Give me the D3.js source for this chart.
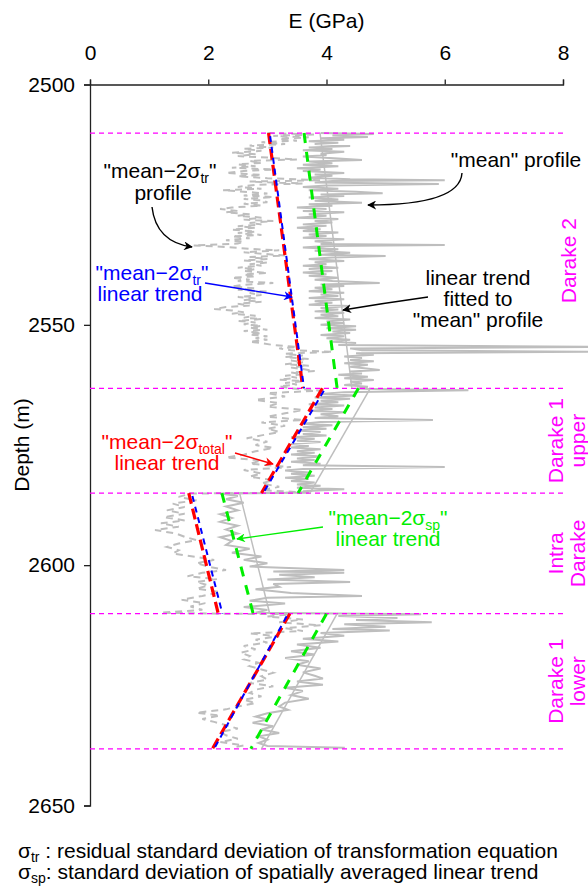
<!DOCTYPE html>
<html>
<head>
<meta charset="utf-8">
<script src="https://cdn.jsdelivr.net/npm/d3@7"></script>
<style>
  body { margin: 0; background: #fff; }
  text { font-family: "Liberation Sans", Arial, sans-serif; }
</style>
</head>
<body>
<svg id="chart" width="588" height="886"></svg>
<script>
// ticks
const eTicks = [0, 2, 4, 6, 8]
const depthTicks = [2500, 2550, 2600, 2650]

// unit boundaries (m) and names
const zoneBounds = [2510.1, 2563.2, 2585.0, 2610.1, 2638.2]
const zoneNames = [["Darake 2"], ["Darake 1", "upper"], ["Intra", "Darake"], ["Darake 1", "lower"]]

// E at top / bottom of each zone for the fitted trends
const meanTrend  = [[3.89, 4.43], [4.74, 3.72], [2.53, 3.04], [4.18, 2.90]]
const spTrend    = [[3.62, 4.18], [4.54, 3.52], [2.23, 2.76], [4.00, 2.72]]
const totalTrend = [[3.02, 3.60], [3.93, 2.90], [1.67, 2.17], [3.38, 2.07]]
const trTrend    = [[3.04, 3.62], [3.98, 2.93], [1.72, 2.24], [3.35, 2.10]]

// "mean" profile  [depth, E]
const meanProfile = [
  [2510.1,3.9],[2510.3,4.8],[2510.6,4.1],[2510.9,4.7],[2511.2,3.9],[2511.5,4.3],[2511.8,3.7],[2512.1,4.2],
  [2512.4,3.8],[2512.8,4.4],[2513.1,3.7],[2513.4,4.1],[2513.7,3.6],[2514.0,4.3],[2514.4,3.9],[2514.7,4.0],
  [2515.0,3.6],[2515.4,4.2],[2515.7,4.6],[2516.0,3.7],[2516.4,4.1],[2516.7,3.6],[2517.0,4.2],[2517.4,3.5],
  [2517.7,3.9],[2518.0,3.6],[2518.4,4.3],[2518.7,3.8],[2519.0,4.1],[2519.4,3.7],[2519.7,4.4],[2519.9,6.0],
  [2520.1,4.1],[2520.4,3.8],[2520.7,5.9],[2521.0,4.0],[2521.3,3.6],[2521.7,4.2],[2522.0,3.7],[2522.3,4.5],
  [2522.6,4.95],[2522.9,3.9],[2523.2,4.3],[2523.5,3.7],[2523.9,4.2],[2524.2,3.8],[2524.6,4.6],[2524.9,3.7],
  [2525.2,4.1],[2525.6,3.5],[2525.9,4.0],[2526.3,3.6],[2526.6,4.3],[2527.0,3.7],[2527.3,4.0],[2527.7,3.5],
  [2528.0,4.2],[2528.4,3.8],[2528.7,4.1],[2529.1,3.6],[2529.4,4.0],[2529.8,3.5],[2530.1,3.9],[2530.5,3.6],
  [2530.8,4.2],[2531.2,3.7],[2531.5,4.0],[2531.9,3.6],[2532.2,4.3],[2532.6,3.8],[2532.9,4.1],[2533.2,3.9],
  [2533.4,6.0],[2533.6,4.0],[2533.9,3.6],[2534.3,4.2],[2534.6,3.8],[2535.0,4.4],[2535.4,3.9],[2535.7,5.0],
  [2536.0,4.1],[2536.3,3.7],[2536.7,4.3],[2537.0,3.8],[2537.4,4.0],[2537.7,3.6],[2538.1,4.2],[2538.4,3.7],
  [2538.8,4.1],[2539.1,3.6],[2539.5,4.0],[2539.8,3.7],[2540.2,4.2],[2540.6,3.8],[2540.9,4.1],[2541.3,4.9],
  [2541.6,3.9],[2541.9,4.3],[2542.3,3.8],[2542.6,4.1],[2543.0,3.7],[2543.3,4.3],[2543.7,3.9],[2544.0,4.2],
  [2544.4,3.7],[2544.7,4.3],[2545.1,3.8],[2545.4,4.1],[2545.8,3.7],[2546.1,4.4],[2546.5,3.9],[2546.8,4.2],
  [2547.2,3.8],[2547.5,4.3],[2547.9,3.9],[2548.2,4.2],[2548.6,3.8],[2548.9,4.4],[2549.3,4.0],[2549.6,4.3],
  [2550.0,3.9],[2550.3,4.5],[2550.7,4.0],[2551.0,4.5],[2551.4,4.1],[2551.7,4.4],[2552.1,3.9],[2552.4,4.3],
  [2552.8,4.0],[2553.1,4.4],[2553.5,4.1],[2553.8,4.5],[2554.2,4.2],[2554.6,8.6],[2554.9,4.4],[2555.3,4.6],
  [2555.6,8.6],[2555.9,4.5],[2556.2,4.8],[2556.6,4.3],[2556.9,4.6],[2557.3,4.4],[2557.6,4.8],[2558.0,4.3],
  [2558.3,4.7],[2558.7,4.4],[2559.0,4.6],[2559.4,4.9],[2559.7,4.4],[2560.1,4.6],[2560.4,4.2],[2560.8,4.7],
  [2561.1,4.3],[2561.5,4.8],[2561.8,4.4],[2562.2,4.6],[2562.5,4.3],[2562.9,4.7],[2563.3,4.5],[2563.6,6.4],
  [2564.0,4.3],[2564.4,3.9],[2564.7,4.5],[2565.1,3.8],[2565.4,4.4],[2565.8,3.9],[2566.1,4.2],[2566.5,3.7],
  [2566.8,4.3],[2567.2,3.8],[2567.5,4.1],[2567.9,3.7],[2568.2,4.3],[2568.6,3.9],[2569.0,4.2],[2569.4,3.8],
  [2569.8,5.8],[2570.2,3.9],[2570.6,3.6],[2570.9,4.1],[2571.3,3.6],[2571.6,4.0],[2572.0,3.5],[2572.3,3.9],
  [2572.7,3.6],[2573.0,4.0],[2573.4,3.4],[2573.7,3.8],[2574.1,3.5],[2574.4,3.9],[2574.8,3.4],[2575.2,3.7],
  [2575.5,3.4],[2575.9,3.9],[2576.3,3.5],[2576.6,3.8],[2577.0,3.4],[2577.4,3.9],[2577.8,3.5],[2578.1,3.8],
  [2578.5,3.4],[2578.9,3.9],[2579.2,3.6],[2579.6,6.0],[2580.0,3.6],[2580.3,3.3],[2580.7,3.7],[2581.0,3.4],
  [2581.4,3.8],[2581.8,3.3],[2582.1,3.7],[2582.5,3.4],[2582.8,3.8],[2583.2,3.5],[2583.5,3.9],[2583.9,3.5],
  [2584.2,4.3],[2584.6,3.6],[2584.9,3.7],[2585.1,2.2],[2585.6,2.5],[2586.3,2.3],
  [2587.0,2.6],[2587.8,2.3],[2588.6,2.5],[2589.4,2.2],[2590.2,2.4],[2591.0,2.2],[2591.8,2.5],[2592.6,2.3],
  [2593.4,2.5],[2594.2,2.2],[2595.0,2.4],[2595.8,2.3],[2596.6,2.7],[2597.4,2.4],[2598.2,2.9],[2598.9,2.6],
  [2599.6,3.0],[2600.3,2.7],[2601.0,4.3],[2601.3,3.1],[2601.6,4.3],[2602.0,3.2],[2602.5,3.8],[2603.0,3.0],
  [2603.5,4.4],[2603.9,3.1],[2604.5,3.2],[2605.0,2.8],[2605.8,3.4],[2606.4,4.6],[2606.8,3.0],[2607.4,2.7],
  [2608.0,3.3],[2608.7,2.6],[2609.3,3.0],[2609.9,2.8],[2610.2,5.6],[2610.6,4.2],[2611.0,5.2],[2611.4,4.5],
  [2611.9,5.78],[2612.3,4.3],[2612.8,5.0],[2613.3,4.1],[2613.6,5.07],[2614.1,3.9],[2614.7,4.3],[2615.3,3.6],
  [2615.9,4.2],[2616.5,3.5],[2617.2,3.9],[2617.9,3.4],[2618.6,3.8],[2619.3,3.3],[2620.0,3.7],[2620.7,3.5],
  [2621.5,3.9],[2622.3,3.6],[2623.0,3.8],[2623.6,3.94],[2624.2,3.5],[2624.9,3.94],[2625.5,3.3],[2626.2,3.6],
  [2627.0,3.4],[2627.8,3.7],[2628.6,3.3],[2629.4,3.2],[2630.1,3.35],[2630.8,3.0],[2631.5,2.8],[2632.1,3.0],
  [2632.8,2.75],[2633.5,3.1],[2634.2,2.9],[2634.9,3.2],[2635.6,2.85],[2636.3,3.0],[2637.0,2.85],[2637.6,3.0],
  [2638.0,4.31]
]

// "mean-2 sigma_tr" profile  [depth, E]
const lowProfile = [
  [2510.1,3.0],[2510.4,3.8],[2510.7,3.1],[2511.0,3.7],[2511.3,3.2],[2511.7,3.5],[2512.0,2.9],[2512.4,3.3],
  [2512.7,2.7],[2513.1,3.1],[2513.4,2.6],[2513.8,2.9],[2514.2,2.4],[2514.5,2.8],[2514.9,2.5],[2515.2,3.0],
  [2515.6,3.5],[2515.9,2.7],[2516.3,2.9],[2516.6,2.5],[2517.0,2.8],[2517.3,2.4],[2517.7,3.1],[2518.0,2.6],
  [2518.4,2.3],[2518.8,2.9],[2519.1,2.5],[2519.5,3.0],[2519.9,3.9],[2520.2,2.7],[2520.6,3.6],[2520.9,2.8],
  [2521.3,2.5],[2521.7,2.9],[2522.0,2.25],[2522.4,2.7],[2522.7,3.0],[2523.1,2.6],[2523.4,3.1],[2523.8,2.6],
  [2524.1,2.9],[2524.5,3.0],[2524.8,2.6],[2525.2,2.9],[2525.6,2.4],[2525.9,2.2],[2526.3,2.5],[2526.6,2.3],
  [2527.0,2.7],[2527.3,2.5],[2527.7,2.9],[2528.1,2.6],[2528.4,3.1],[2528.8,2.7],[2529.1,2.9],[2529.5,2.5],
  [2529.8,2.8],[2530.2,2.4],[2530.6,2.8],[2530.9,2.5],[2531.3,2.9],[2531.6,2.4],[2532.0,2.7],[2532.4,2.3],
  [2532.7,2.6],[2533.1,2.5],[2533.5,1.75],[2533.8,2.3],[2534.2,2.7],[2534.5,3.2],[2534.9,2.6],[2535.2,2.9],
  [2535.6,3.3],[2535.9,2.7],[2536.3,3.0],[2536.6,2.6],[2537.0,3.0],[2537.4,2.7],[2537.7,2.9],[2538.1,2.5],
  [2538.4,2.8],[2538.8,2.6],[2539.2,3.0],[2539.5,2.6],[2539.9,2.8],[2540.2,2.4],[2540.6,2.7],[2540.9,2.5],
  [2541.3,3.1],[2541.7,2.6],[2542.0,2.4],[2542.4,2.8],[2542.7,2.5],[2543.1,3.0],[2543.4,2.7],[2543.8,2.9],
  [2544.2,2.5],[2544.5,2.8],[2544.9,2.6],[2545.2,2.9],[2545.6,2.5],[2546.0,2.7],[2546.3,2.3],[2546.7,2.1],
  [2547.0,2.4],[2547.4,2.6],[2547.7,2.4],[2548.1,2.8],[2548.5,2.6],[2548.8,2.9],[2549.2,2.5],[2549.5,2.8],
  [2549.9,2.6],[2550.2,2.9],[2550.6,2.7],[2551.0,3.0],[2551.3,2.6],[2551.7,2.9],[2552.0,2.7],[2552.4,3.0],
  [2552.8,2.8],[2553.1,3.0],[2553.5,2.7],[2553.8,2.9],[2554.2,3.1],[2554.6,3.5],[2554.9,3.2],[2555.3,3.4],
  [2555.6,4.1],[2556.0,3.3],[2556.4,3.6],[2556.7,3.3],[2557.1,3.7],[2557.4,3.4],[2557.8,3.6],[2558.2,3.3],
  [2558.5,3.7],[2558.9,3.4],[2559.2,3.6],[2559.6,3.8],[2559.9,3.4],[2560.3,3.6],[2560.6,3.3],[2561.0,3.5],
  [2561.4,3.2],[2561.7,3.6],[2562.1,3.3],[2562.4,3.5],[2562.8,3.2],[2563.2,3.4],
  [2563.7,3.9],[2564.2,3.0],[2564.9,3.3],[2565.6,2.8],[2566.3,3.2],[2567.0,3.0],[2567.7,3.6],
  [2568.4,3.3],[2569.1,3.0],[2569.8,3.6],[2570.3,2.9],[2571.0,3.3],[2571.6,3.0],[2572.3,3.2],[2573.0,2.9],
  [2573.6,2.65],[2574.3,3.0],[2575.0,2.8],[2575.6,3.1],[2576.3,2.8],[2577.0,2.6],[2577.6,2.3],[2578.2,2.9],
  [2578.9,2.7],[2579.6,3.4],[2580.2,2.6],[2580.9,2.9],[2581.6,2.7],[2582.3,3.1],[2583.0,2.9],[2583.7,3.2],
  [2584.4,2.9],[2584.9,3.7],[2585.1,1.7],[2585.8,1.5],[2586.5,1.8],[2587.2,1.4],[2587.9,1.6],[2588.6,1.3],
  [2589.3,1.6],[2590.0,1.25],[2590.7,1.6],[2591.3,1.2],[2592.0,1.5],[2592.7,1.1],[2593.4,1.45],[2594.1,1.6],
  [2594.8,1.8],[2595.5,1.5],[2596.2,1.3],[2596.9,1.5],[2597.6,1.4],[2598.3,1.8],[2598.9,2.1],[2599.6,1.8],
  [2600.3,2.0],[2601.0,2.3],[2601.6,1.9],[2602.3,1.65],[2602.9,2.15],[2603.5,1.8],[2604.2,2.0],[2604.9,1.8],
  [2605.6,2.2],[2606.4,1.9],[2607.2,1.55],[2607.9,1.95],[2608.6,1.7],[2609.3,1.9],[2609.9,1.2],[2610.1,2.25],
  [2610.2,3.4],[2610.7,3.0],[2611.3,3.6],[2611.9,3.2],[2612.5,3.9],[2613.1,3.3],[2613.7,3.6],[2614.2,2.7],
  [2614.8,3.2],[2615.5,2.8],[2616.1,3.0],[2616.8,2.6],[2617.5,2.8],[2618.2,2.55],[2618.9,2.7],[2619.6,2.6],
  [2620.3,2.85],[2621.0,2.7],[2621.7,2.9],[2622.4,3.1],[2623.1,2.9],[2623.8,3.0],[2624.5,2.7],[2625.2,3.1],
  [2625.9,2.8],[2626.6,2.7],[2627.3,2.9],[2628.0,2.6],[2628.7,2.8],[2629.4,2.5],[2630.0,2.3],[2630.7,1.8],
  [2631.3,2.2],[2632.0,1.9],[2632.6,2.1],[2633.3,2.3],[2634.0,2.5],[2634.7,2.2],[2635.4,2.3],[2636.1,2.5],
  [2636.8,2.2],[2637.5,2.6],[2638.0,2.4]
]

const svg = d3.select("#chart")
const font = '"Liberation Sans", Arial, sans-serif'

const x = d3.scaleLinear().domain([0, 8]).range([90, 563])
const y = d3.scaleLinear().domain([2500, 2650]).range([84.5, 805.5])

// axes
const topAxis = svg.append("g")
    .attr("transform", `translate(0,${y(2500)})`)
    .call(d3.axisTop(x).tickValues(eTicks).tickFormat(d3.format("d"))
        .tickSize(5).tickSizeOuter(5).tickPadding(20))
topAxis.attr("font-size", 21).attr("font-family", font)
topAxis.selectAll("path, line").attr("stroke", "#222").attr("stroke-width", 1.3)
topAxis.selectAll("text").attr("fill", "#000")

const leftAxis = svg.append("g")
    .attr("transform", `translate(${x(0)},0)`)
    .call(d3.axisLeft(y).tickValues(depthTicks).tickFormat(d3.format("d"))
        .tickSize(6).tickSizeOuter(6).tickPadding(9))
leftAxis.attr("font-size", 21).attr("font-family", font)
leftAxis.selectAll("path, line").attr("stroke", "#222").attr("stroke-width", 1.3)
leftAxis.selectAll("text").attr("fill", "#000")

svg.append("text").attr("x", (x(0) + x(8)) / 2).attr("y", 28)
    .attr("text-anchor", "middle").attr("font-size", 21).text("E (GPa)")
svg.append("text").attr("transform", `translate(28.5,${(y(2500) + y(2650)) / 2}) rotate(-90)`)
    .attr("text-anchor", "middle").attr("font-size", 21).text("Depth (m)")

// profiles
const line = d3.line().x(d => x(d[1])).y(d => y(d[0]))

svg.append("path").datum(lowProfile)
    .attr("d", line).attr("fill", "none")
    .attr("stroke", "#bebebe").attr("stroke-width", 2).attr("stroke-dasharray", "7,5")

svg.append("path").datum(meanProfile)
    .attr("d", line).attr("fill", "none")
    .attr("stroke", "#bebebe").attr("stroke-width", 2)

// zone boundaries
svg.append("g").selectAll("line").data(zoneBounds).join("line")
    .attr("x1", x(0)).attr("x2", x(8))
    .attr("y1", d => y(d)).attr("y2", d => y(d))
    .attr("stroke", "#ff00ff").attr("stroke-width", 1.3).attr("stroke-dasharray", "5,4")

// trends per zone
const trendSegs = arr => arr.map((v, i) => [[zoneBounds[i], v[0]], [zoneBounds[i + 1], v[1]]])

const drawTrend = (arr, color, width, dash, offset) => {
    svg.append("g").selectAll("path").data(trendSegs(arr)).join("path")
        .attr("d", line).attr("fill", "none")
        .attr("stroke", color).attr("stroke-width", width)
        .attr("stroke-dasharray", dash).attr("stroke-dashoffset", offset)
}
drawTrend(meanTrend, "#bebebe", 1.5, null, 0)
drawTrend(spTrend, "#00ee00", 3, "10,9", 0)
drawTrend(totalTrend, "#ff0000", 3.2, "11,5", 0)
drawTrend(trTrend, "#0000ff", 2, "6,5", 8)

// zone names
zoneNames.forEach((lines, i) => {
    const cy = y((zoneBounds[i] + zoneBounds[i + 1]) / 2)
    const xs = lines.length === 1 ? [575.5] : [562.5, 584.5]
    lines.forEach((s, j) => {
        svg.append("text").attr("transform", `translate(${xs[j]},${cy}) rotate(-90)`)
            .attr("text-anchor", "middle").attr("font-size", 21).attr("fill", "#ff00ff").text(s)
    })
})

// arrowheads
const defs = svg.append("defs")
;[["k", "#000"], ["b", "#0000ff"], ["r", "#ff0000"], ["g", "#00ee00"]].forEach(([id, c]) => {
    defs.append("marker").attr("id", "ah" + id)
        .attr("viewBox", "0 0 10 10").attr("refX", 9).attr("refY", 5)
        .attr("markerWidth", 9).attr("markerHeight", 9).attr("markerUnits", "userSpaceOnUse")
        .attr("orient", "auto")
        .append("path").attr("d", "M0,0 L10,5 L0,10 L3,5 Z").attr("fill", c)
})

const arrow = (d, c, id) => svg.append("path").attr("d", d).attr("fill", "none")
    .attr("stroke", c).attr("stroke-width", 1.4).attr("marker-end", `url(#ah${id})`)

// label with subscript
const subLabel = (cx, by, pre, sub, post, color) => {
    const t = svg.append("text").attr("x", cx).attr("y", by)
        .attr("text-anchor", "middle").attr("font-size", 21).attr("fill", color)
    t.append("tspan").text(pre)
    t.append("tspan").attr("font-size", 14).attr("dy", 5).text(sub)
    t.append("tspan").attr("dy", -5).text(post)
}
const plainLabel = (cx, by, s, color) => svg.append("text").attr("x", cx).attr("y", by)
    .attr("text-anchor", "middle").attr("font-size", 21).attr("fill", color).text(s)

subLabel(160, 178, "\"mean\u22122\u03c3", "tr", "\"", "#000")
plainLabel(163, 200, "profile", "#000")
arrow("M152,207 Q156,242 192,247", "#000", "k")

subLabel(152, 280, "\"mean\u22122\u03c3", "tr", "\"", "#0000ff")
plainLabel(150, 301, "linear trend", "#0000ff")
arrow("M205,283 L292,297", "#0000ff", "b")

plainLabel(516, 167, "\"mean\" profile", "#000")
arrow("M462,173 Q460,205 368,205", "#000", "k")

plainLabel(478, 285, "linear trend", "#000")
plainLabel(478, 306, "fitted to", "#000")
plainLabel(478, 327, "\"mean\" profile", "#000")
arrow("M428,297 Q385,303 343,310", "#000", "k")

subLabel(167, 449, "\"mean\u22122\u03c3", "total", "\"", "#ff0000")
plainLabel(167, 470, "linear trend", "#ff0000")
arrow("M235,453 L273,464", "#ff0000", "r")

subLabel(388, 525, "\"mean\u22122\u03c3", "sp", "\"", "#00ee00")
plainLabel(388, 546, "linear trend", "#00ee00")
arrow("M323,527 L237,539", "#00ee00", "g")

// notes
const note = (by, sub, rest) => {
    const t = svg.append("text").attr("x", 18).attr("y", by).attr("font-size", 21).attr("fill", "#000")
    t.append("tspan").text("\u03c3")
    t.append("tspan").attr("font-size", 14).attr("dy", 4).text(sub)
    t.append("tspan").attr("dy", -4).text(rest)
}
note(858, "tr", " : residual standard deviation of transformation equation")
note(879, "sp", ": standard deviation of spatially averaged linear trend")
</script>
</body>
</html>
